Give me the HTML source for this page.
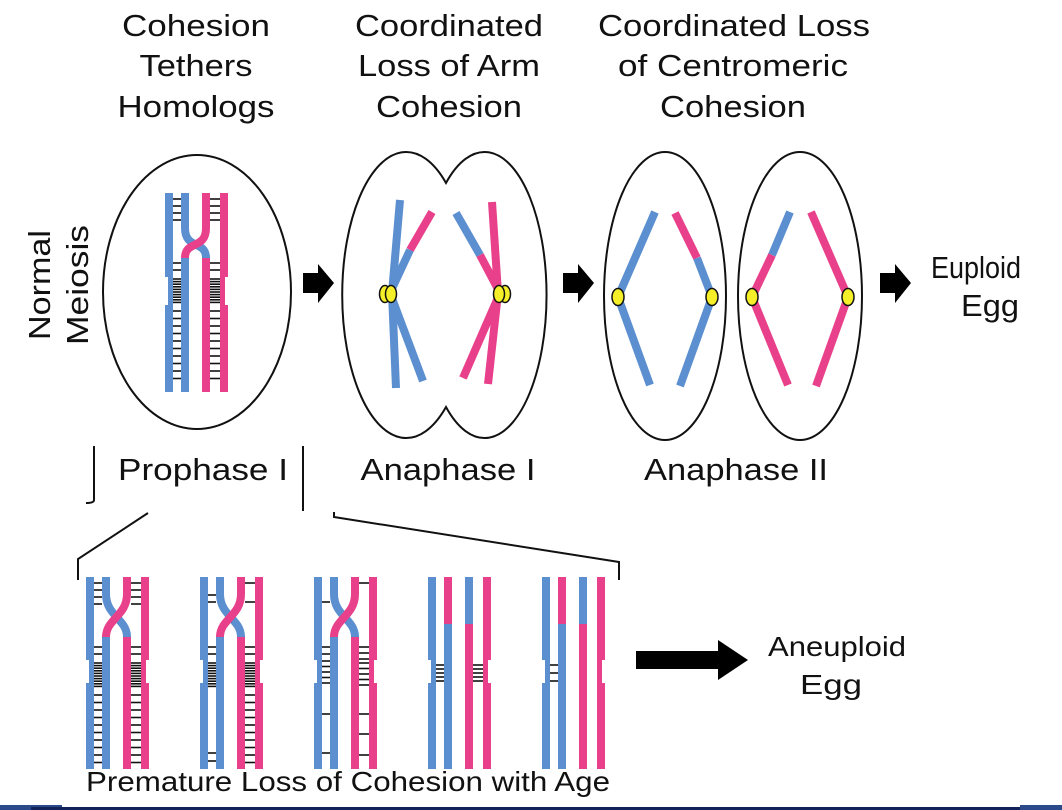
<!DOCTYPE html>
<html><head><meta charset="utf-8"><style>
html,body{margin:0;padding:0;background:#fff;width:1062px;height:810px;overflow:hidden}
svg text{font-family:"Liberation Sans",Arial,sans-serif;fill:#111}
</style></head><body>
<svg id="s" width="1062" height="810" viewBox="0 0 1062 810" xmlns="http://www.w3.org/2000/svg">
<g font-size="31" text-anchor="middle" lengthAdjust="spacingAndGlyphs">
<text x="196" y="36" textLength="148" lengthAdjust="spacingAndGlyphs">Cohesion</text>
<text x="196" y="76" textLength="113" lengthAdjust="spacingAndGlyphs">Tethers</text>
<text x="196" y="117" textLength="157" lengthAdjust="spacingAndGlyphs">Homologs</text>
<text x="449" y="36" textLength="188" lengthAdjust="spacingAndGlyphs">Coordinated</text>
<text x="449" y="76" textLength="182" lengthAdjust="spacingAndGlyphs">Loss of Arm</text>
<text x="449" y="117" textLength="146" lengthAdjust="spacingAndGlyphs">Cohesion</text>
<text x="734" y="36" textLength="272" lengthAdjust="spacingAndGlyphs">Coordinated Loss</text>
<text x="733" y="76" textLength="230" lengthAdjust="spacingAndGlyphs">of Centromeric</text>
<text x="733" y="117" textLength="146" lengthAdjust="spacingAndGlyphs">Cohesion</text>
<text x="203" y="480" textLength="170" lengthAdjust="spacingAndGlyphs">Prophase I</text>
<text x="448" y="480" textLength="175" lengthAdjust="spacingAndGlyphs">Anaphase I</text>
<text x="736" y="480" textLength="184" lengthAdjust="spacingAndGlyphs">Anaphase II</text>
<text x="976" y="278" textLength="90" lengthAdjust="spacingAndGlyphs">Euploid</text>
<text x="990" y="316" textLength="58" lengthAdjust="spacingAndGlyphs">Egg</text>
<text transform="translate(50,285) rotate(-90)" textLength="110" lengthAdjust="spacingAndGlyphs">Normal</text>
<text transform="translate(88,285) rotate(-90)" textLength="120" lengthAdjust="spacingAndGlyphs">Meiosis</text>
</g>
<g font-size="28" text-anchor="middle">
<text x="837" y="656" textLength="138" lengthAdjust="spacingAndGlyphs">Aneuploid</text>
<text x="831" y="694" textLength="62" lengthAdjust="spacingAndGlyphs">Egg</text>
<text x="348" y="791" textLength="524" lengthAdjust="spacingAndGlyphs">Premature Loss of Cohesion with Age</text>
</g>
<g fill="none" stroke="#111" stroke-width="2">
<ellipse cx="197" cy="292" rx="94" ry="137"/>
<path d="M446,183 A64,143 0 1 0 446,407 A62,143 0 1 0 446,183 Z"/>
<ellipse cx="665" cy="296" rx="61" ry="144"/>
<ellipse cx="800" cy="296" rx="62" ry="144"/>
<path d="M94,446 V500 Q94,503 86,503"/>
<path d="M303,446 V511"/>
<path d="M148,513 L78,559 V580"/>
<path d="M334,512 V517 L619,562 V580"/>
</g>
<g fill="#000">
<path d="M303,273 H318 V264 L334,283 L318,303 V293 H303 Z"/>
<path d="M563,273 H578 V264 L594,283 L578,303 V293 H563 Z"/>
<path d="M880,273 H895 V264 L911,283 L895,303 V293 H880 Z"/>
<path d="M636,651 H718 V640 L748,660 L718,680 V669 H636 Z"/>
</g>
<g stroke-width="8" stroke-linecap="butt" fill="none">
<path d="M400,200 L392,293 L396,388" stroke="#5b8fd0"/>
<path d="M432,212 L410,250" stroke="#e8408a"/>
<path d="M410,250 L390,293 L423,381" stroke="#5b8fd0"/>
<path d="M492,202 L498,293 L488,384" stroke="#e8408a"/>
<path d="M456,213 L480,255" stroke="#5b8fd0"/>
<path d="M480,255 L500,293 L463,378" stroke="#e8408a"/>
<path d="M655,212 L618,297 L650,385" stroke="#5b8fd0"/>
<path d="M675,213 L697,258" stroke="#e8408a"/>
<path d="M697,258 L712,297 L680,386" stroke="#5b8fd0"/>
<path d="M790,212 L772,255" stroke="#5b8fd0"/>
<path d="M772,255 L752,297 L788,385" stroke="#e8408a"/>
<path d="M811,212 L848,297 L816,386" stroke="#e8408a"/>
</g>
<g fill="#f5ef2a" stroke="#111" stroke-width="1.5">
<ellipse cx="385" cy="294" rx="5.5" ry="8.5"/><ellipse cx="391" cy="294" rx="5.5" ry="8.5"/>
<ellipse cx="505" cy="294" rx="5.5" ry="8.5"/><ellipse cx="499" cy="294" rx="5.5" ry="8.5"/>
<ellipse cx="618" cy="297" rx="6" ry="8.5"/><ellipse cx="712" cy="297" rx="6" ry="8.5"/>
<ellipse cx="752" cy="297" rx="6" ry="8.5"/><ellipse cx="848" cy="297" rx="6" ry="8.5"/>
</g>
<g id="chr"></g>
<rect x="0" y="805" width="62" height="5" fill="#2b4a8a"/>
<rect x="31" y="807" width="990" height="3" fill="#13235a"/>
<rect x="1020" y="805" width="42" height="5" fill="#2b4a8a"/>
</svg>
<script>
var B="#5b8fd0",P="#e8408a",g=document.getElementById("chr"),h="";
function R(x,y,w,hh,c){h+='<rect x="'+x+'" y="'+y+'" width="'+w+'" height="'+hh+'" fill="'+c+'"/>';}
function L(x1,x2,y){h+='<line x1="'+x1+'" x2="'+x2+'" y1="'+y+'" y2="'+y+'" stroke="#111" stroke-width="1.6"/>';}
function range(a,b,s){var r=[];for(var y=a;y<=b;y+=s)r.push(y);return r;}
function chrom(x0,top,bot,cs,ce,c1,c2,cross,tl,tr,split){
 var w=8,xs=[x0,x0+16,x0+37,x0+55];
 R(xs[0],top,w,c1-top,B);R(xs[0]+3,c1,w-3,c2-c1,B);R(xs[0],c2,w,bot-c2,B);
 R(xs[3],top,w,c1-top,P);R(xs[3],c1,w-3,c2-c1,P);R(xs[3],c2,w,bot-c2,P);
 if(cross){
  R(xs[1],top,w,cs-top,B);R(xs[2],top,w,cs-top,P);
  h+='<path d="M'+(xs[1]+4)+','+cs+' C'+(xs[1]+4)+','+(cs+22)+' '+(xs[2]+4)+','+(ce-18)+' '+(xs[2]+4)+','+ce+'" stroke="'+B+'" stroke-width="8" fill="none"/>';
  h+='<path d="M'+(xs[2]+4)+','+cs+' C'+(xs[2]+4)+','+(cs+22)+' '+(xs[1]+4)+','+(ce-18)+' '+(xs[1]+4)+','+ce+'" stroke="'+P+'" stroke-width="8" fill="none"/>';
  R(xs[1],ce,w,bot-ce,B);R(xs[2],ce,w,bot-ce,P);
 } else {
  R(xs[1],top,w,split-top,P);R(xs[1],split,w,bot-split,B);
  R(xs[2],top,w,split-top,B);R(xs[2],split,w,bot-split,P);
 }
 tl.forEach(function(y){L(xs[0]+w,xs[1],y);});
 tr.forEach(function(y){L(xs[2]+w,xs[3],y);});
}
function full(top){
 return range(top+6,top+30,7).concat(range(top+70,top+80,7),range(top+86,top+110,2.6),range(top+118,top+190,7.5));
}
chrom(165,193,392,228,258,277,305,true,full(193),full(193));
var T=577;
chrom(86,T,769,594,637,660,683,true,full(T),full(T));
chrom(200,T,769,594,637,660,683,true,
 [T+18,T+25].concat(range(T+70,T+80,7),range(T+86,T+110,2.6),[T+176,T+184]),
 [T+6,T+25].concat(range(T+70,T+80,7),range(T+86,T+110,2.6),range(T+118,T+190,7.5)));
chrom(314,T,769,594,637,660,683,true,
 [T+25].concat(range(T+70,T+80,7),range(T+84,T+110,5.5),[T+137,T+176]),
 [T+6].concat(range(T+70,T+82,6),range(T+86,T+110,5.5),[T+137,T+157,T+178]));
chrom(428,T,769,0,0,660,683,false,[T+88,T+92,T+96,T+100,T+104],[T+88,T+92,T+96,T+100,T+104],624);
chrom(542,T,769,0,0,660,683,false,[T+88,T+96,T+104],[],624);
g.innerHTML=h;
</script>
</body></html>
